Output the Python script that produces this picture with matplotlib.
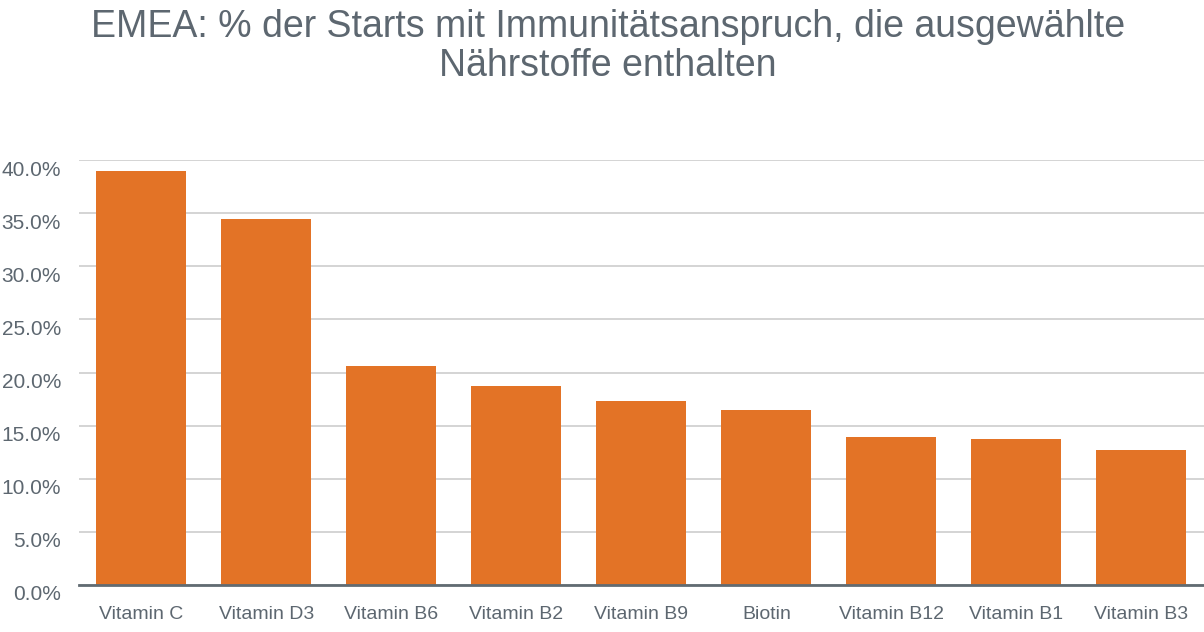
import matplotlib.pyplot as plt
import matplotlib.transforms as mtransforms
from matplotlib.ticker import PercentFormatter

categories = ["Vitamin C", "Vitamin D3", "Vitamin B6", "Vitamin B2", "Vitamin B9",
              "Biotin", "Vitamin B12", "Vitamin B1", "Vitamin B3"]
values = [39.0, 34.5, 20.6, 18.7, 17.3, 16.5, 13.9, 13.7, 12.7]
yticks = [0, 5, 10, 15, 20, 25, 30, 35, 40]

text_color = "#5d6770"
bar_color = "#e37326"

plt.rcParams['font.family'] = ['Liberation Sans', 'DejaVu Sans']

fig = plt.figure(figsize=(12.04, 6.32), dpi=100)
ax = fig.add_axes([0.0656, 0.0744, 0.9344, 0.6723])

ax.bar(range(len(categories)), values, width=0.72, color=bar_color, zorder=3)
ax.set_xlim(-0.5, len(categories) - 0.5)
ax.set_ylim(0, 40)
ax.set_yticks(yticks)
ax.yaxis.set_major_formatter(PercentFormatter(decimals=1))
ax.set_xticks(range(len(categories)))
ax.set_xticklabels(categories)

ax.grid(axis='y', color="#c9c9c9", linewidth=1.1, zorder=0)
for s in ["top", "right", "left"]:
    ax.spines[s].set_visible(False)
ax.spines["bottom"].set_color("#616b72")
ax.spines["bottom"].set_linewidth(2)
ax.spines["bottom"].set_zorder(4)

ax.tick_params(axis='both', length=0, colors=text_color)
ax.tick_params(axis='x', pad=15, labelsize=14)
ax.tick_params(axis='y', pad=13, labelsize=15)

# y labels sit a bit below their gridlines in the original
shift = mtransforms.ScaledTranslation(0, -8 / 100, fig.dpi_scale_trans)
for lbl in ax.get_yticklabels():
    lbl.set_transform(lbl.get_transform() + shift)

fig.text(0.505, 0.926, "EMEA: % der Starts mit Immunitätsanspruch, die ausgewählte\nNährstoffe enthalten",
         ha='center', va='center', fontsize=27, color=text_color, linespacing=1.12)

fig.savefig("out.png", dpi=100)
